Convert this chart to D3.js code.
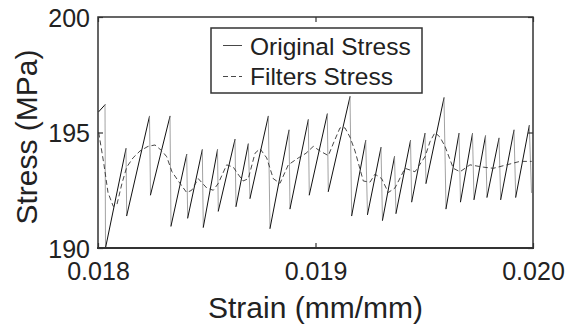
<!DOCTYPE html>
<html>
<head>
<meta charset="utf-8">
<script src="https://cdn.jsdelivr.net/npm/d3@7"></script>
<style>
  html, body { margin: 0; padding: 0; background: #fff; }
  svg { display: block; }
  text { font-family: "Liberation Sans", Arial, Helvetica, sans-serif; fill: #222; }
</style>
</head>
<body>
<svg id="chart" width="566" height="325"></svg>
<script>
// ---- data ----
const originalStrain = [0.0180032, 0.0180322, 0.0180345, 0.0181287, 0.0181320, 0.0182368, 0.0182414, 0.0183310, 0.0183356,
  0.0184078, 0.0184124, 0.0184795, 0.0184841, 0.0185494, 0.0185531, 0.0186299, 0.0186345, 0.0186910, 0.0186989,
  0.0187830, 0.0187908, 0.0188782, 0.0188828, 0.0189669, 0.0189715, 0.0190543, 0.0190589, 0.0191586, 0.0191664,
  0.0192308, 0.0192391, 0.0193011, 0.0193080, 0.0193632, 0.0193701, 0.0194368, 0.0194423, 0.0195034, 0.0195080,
  0.0195908, 0.0196000, 0.0196598, 0.0196667, 0.0197218, 0.0197287, 0.0197816, 0.0197885, 0.0198437, 0.0198515,
  0.0199126, 0.0199205, 0.0199830, 0.0199931];
const originalStress = [195.9, 196.2, 190.0, 194.3, 191.4, 195.7, 192.3, 195.7, 190.95,
  194.05, 191.3, 194.25, 190.9, 194.25, 191.6, 194.7, 191.8, 194.5, 192.15,
  195.7, 190.85, 195.1, 191.7, 195.55, 192.3, 195.8, 192.45, 196.55, 191.4,
  194.65, 191.45, 194.35, 191.2, 193.95, 191.5, 194.65, 192.0, 194.96, 192.8,
  196.5, 191.7, 194.96, 192.0, 194.95, 192.1, 194.85, 192.2, 194.75, 192.1,
  195.1, 192.2, 195.3, 192.4];

const filteredStrain = [0.0180032, 0.0180276, 0.0180460, 0.0180703, 0.0180874, 0.0181103, 0.0181320, 0.0181609, 0.0181931,
  0.0182299, 0.0182621, 0.0182943, 0.0183159, 0.0183402, 0.0183692, 0.0184078, 0.0184308, 0.0184611, 0.0184998,
  0.0185301, 0.0185531, 0.0185917, 0.0186221, 0.0186437, 0.0186667, 0.0186910, 0.0187218, 0.0187448, 0.0187756,
  0.0188060, 0.0188368, 0.0188749, 0.0189209, 0.0189563, 0.0189899, 0.0190207, 0.0190589, 0.0190851, 0.0191126,
  0.0191356, 0.0191586, 0.0191816, 0.0192198, 0.0192506, 0.0192736, 0.0193044, 0.0193347, 0.0193655, 0.0194115,
  0.0194575, 0.0195034, 0.0195264, 0.0195494, 0.0195724, 0.0195954, 0.0196336, 0.0196644, 0.0197103, 0.0197715,
  0.0198175, 0.0198791, 0.0199402, 0.0199940];
const filteredStress = [195.0, 193.6, 192.4, 191.8, 191.9, 192.8, 193.5, 193.9, 194.2,
  194.4, 194.46, 194.2, 193.95, 193.3, 192.9, 192.4, 192.5, 193.0, 192.6,
  192.5, 192.8, 193.6, 193.5, 193.2, 192.9, 193.0, 194.1, 194.3, 193.9,
  193.0, 192.8, 193.6, 193.9, 194.1, 194.4, 194.2, 194.0, 194.6, 195.2,
  195.2, 194.8, 194.2, 192.9, 192.85, 193.2, 193.0, 192.4, 192.6, 193.45,
  193.3, 193.95, 194.6, 195.0, 194.8, 194.4, 193.45, 193.3, 193.6, 193.5,
  193.45, 193.6, 193.75, 193.75];

const xTicks = [0.018, 0.019, 0.020];
const yTicks = [190, 195, 200];
const seriesNames = ["Original Stress", "Filters Stress"];
const xLabel = "Strain (mm/mm)";
const yLabel = "Stress (MPa)";

// ---- layout ----
const svg = d3.select("#chart");
const L = 98, R = 533, T = 17, B = 248;
const x = d3.scaleLinear().domain([0.018, 0.020]).range([L, R]);
const y = d3.scaleLinear().domain([190, 200]).range([B, T]);

const orig = originalStrain.map((s, i) => [s, originalStress[i]]);
const filt = filteredStrain.map((s, i) => [s, filteredStress[i]]);
const line = d3.line().x(d => x(d[0])).y(d => y(d[1]));

const plot = svg.append("g");
plot.append("defs").append("clipPath").attr("id", "clip")
  .append("rect").attr("x", L).attr("y", T).attr("width", R - L).attr("height", B - T);

const lines = plot.append("g").attr("clip-path", "url(#clip)");
// original stress: loading ramps dark, sudden drops lighter (as in the reference)
const segs = d3.pairs(orig);
lines.selectAll("line.seg").data(segs).join("line").attr("class", "seg")
  .attr("x1", d => x(d[0][0])).attr("y1", d => y(d[0][1]))
  .attr("x2", d => x(d[1][0])).attr("y2", d => y(d[1][1]))
  .attr("stroke", d => d[1][1] >= d[0][1] ? "#111" : "#8a8a8a")
  .attr("stroke-width", d => d[1][1] >= d[0][1] ? 1.0 : 0.8)
  .attr("stroke-linecap", "round");
lines.append("path").datum(filt).attr("d", line)
  .attr("fill", "none").attr("stroke", "#333").attr("stroke-width", 0.9)
  .attr("stroke-dasharray", "5,3");

// axes
const fmtX = d3.format(".3f");
const gx = svg.append("g").attr("transform", `translate(0,${B})`)
  .call(d3.axisBottom(x).tickValues(xTicks).tickFormat(fmtX).tickSizeInner(-5).tickSizeOuter(0).tickPadding(14));
const gxTop = svg.append("g").attr("transform", `translate(0,${T})`)
  .call(d3.axisTop(x).tickValues(xTicks).tickFormat("").tickSizeInner(-5).tickSizeOuter(0));
const gy = svg.append("g").attr("transform", `translate(${L},0)`)
  .call(d3.axisLeft(y).tickValues(yTicks).tickFormat(d3.format("d")).tickSizeInner(-5).tickSizeOuter(0).tickPadding(8));
const gyR = svg.append("g").attr("transform", `translate(${R},0)`)
  .call(d3.axisRight(y).tickValues(yTicks).tickFormat("").tickSizeInner(-5).tickSizeOuter(0));

[gx, gxTop, gy, gyR].forEach(g => {
  g.select(".domain").remove();
  g.selectAll(".tick line").attr("stroke", "#333").attr("stroke-width", 1.2);
  g.selectAll(".tick text").attr("font-size", 25).attr("fill", "#222")
    .style("font-family", '"Liberation Sans", Arial, sans-serif');
});
gy.selectAll(".tick text").attr("dy", "0.36em");

// frame
svg.append("rect").attr("x", L).attr("y", T).attr("width", R - L).attr("height", B - T)
  .attr("fill", "none").attr("stroke", "#333").attr("stroke-width", 1.5);
svg.append("line").attr("x1", L - 1).attr("x2", R + 1).attr("y1", B).attr("y2", B)
  .attr("stroke", "#333").attr("stroke-width", 2.2);

// axis labels
svg.append("text").attr("x", (L + R) / 2).attr("y", 318).attr("text-anchor", "middle")
  .attr("font-size", 30).text(xLabel);
svg.append("text").attr("transform", `translate(37,137) rotate(-90)`).attr("text-anchor", "middle")
  .attr("font-size", 30).text(yLabel);

// legend
const lg = svg.append("g");
lg.append("rect").attr("x", 211).attr("y", 28).attr("width", 211).attr("height", 65)
  .attr("fill", "#fff").attr("stroke", "#333").attr("stroke-width", 1.5);
const rows = [{ ly: 45.5, ty: 55, dash: null }, { ly: 76.5, ty: 85, dash: "5,3" }];
rows.forEach((r, i) => {
  const ln = lg.append("line").attr("x1", 223).attr("x2", 242).attr("y1", r.ly).attr("y2", r.ly)
    .attr("stroke", "#333").attr("stroke-width", 0.9);
  if (r.dash) ln.attr("stroke-dasharray", r.dash);
  lg.append("text").attr("x", 250).attr("y", r.ty).attr("font-size", 24.5).text(seriesNames[i]);
});
</script>
</body>
</html>
